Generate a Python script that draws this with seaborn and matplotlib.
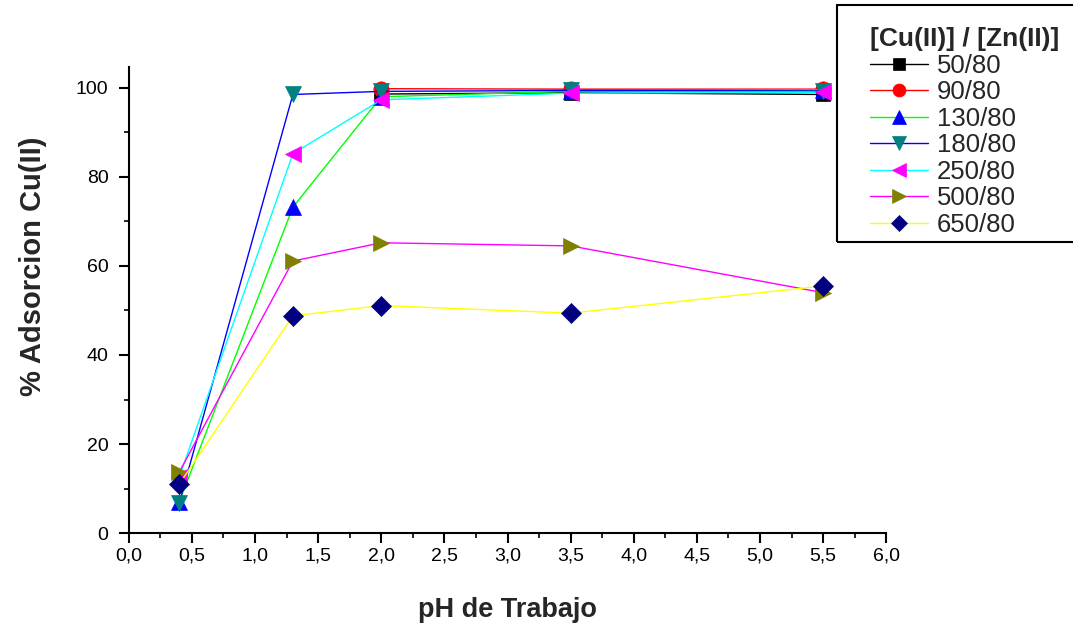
import numpy as np
import pandas as pd
import matplotlib
matplotlib.use("Agg")
import matplotlib.pyplot as plt
from matplotlib.patches import Rectangle
from matplotlib.ticker import MultipleLocator, FuncFormatter
import seaborn as sns

# pH values at which adsorption was measured
ph = [0.4, 1.3, 2.0, 3.5, 5.5]

# Cu(II) adsorption (%) for each Cu/Zn ratio
cu_50_80 = [np.nan, np.nan, 98.6, 98.9, 98.5]
cu_90_80 = [np.nan, np.nan, 99.8, 99.7, 99.7]
cu_130_80 = [7.0, 73.2, 98.0, 99.2, 99.5]
cu_180_80 = [6.8, 98.5, 99.2, 99.4, 99.3]
cu_250_80 = [12.6, 85.2, 97.3, 98.8, 99.0]
cu_500_80 = [13.7, 61.1, 65.2, 64.5, 54.0]
cu_650_80 = [11.0, 48.8, 51.1, 49.4, 55.5]

labels = ["50/80", "90/80", "130/80", "180/80", "250/80", "500/80", "650/80"]
series = [cu_50_80, cu_90_80, cu_130_80, cu_180_80, cu_250_80, cu_500_80, cu_650_80]

line_colors = ["#000000", "#FF0000", "#00FF00", "#0000FF", "#00FFFF", "#FF00FF", "#FFFF00"]
marker_colors = ["#000000", "#FF0000", "#0000FF", "#008080", "#FF00FF", "#808000", "#000080"]
marker_shapes = ["s", "o", "^", "v", "<", ">", "D"]
marker_sizes = [10, 11, 12, 12, 12, 12, 10]

sns.set_theme(style="ticks")
plt.rcParams["font.family"] = ["Liberation Sans", "DejaVu Sans"]

W, H = 1073, 625
fig = plt.figure(figsize=(W / 100, H / 100), dpi=100)
ax = fig.add_axes([0.120, 0.147, 0.706, 0.746])

for lab, vals, lc, mc, m, ms in zip(labels, series, line_colors, marker_colors,
                                    marker_shapes, marker_sizes):
    df = pd.DataFrame({"pH": ph, "ads": vals}).dropna()
    sns.lineplot(data=df, x="pH", y="ads", ax=ax, color=lc, lw=1.0,
                 marker=m, markersize=ms, markerfacecolor=mc,
                 markeredgecolor=mc, markeredgewidth=0.5,
                 label=lab, legend=False, sort=False)

ax.set_xlim(0, 6.0)
ax.set_ylim(0, 104.7)
ax.xaxis.set_major_locator(MultipleLocator(0.5))
ax.xaxis.set_minor_locator(MultipleLocator(0.25))
ax.yaxis.set_major_locator(MultipleLocator(20))
ax.yaxis.set_minor_locator(MultipleLocator(10))
ax.xaxis.set_major_formatter(FuncFormatter(lambda v, p: f"{v:.1f}".replace(".", ",")))
ax.yaxis.set_major_formatter(FuncFormatter(lambda v, p: f"{v:.0f}"))

ax.tick_params(which="major", direction="out", length=7, width=1.5,
               labelsize=14, colors="black")
ax.tick_params(axis="x", which="major", pad=3)
ax.tick_params(axis="y", which="major", pad=7.5)
ax.tick_params(which="minor", direction="out", length=3.8, width=1.2, colors="black")
for side in ["left", "bottom"]:
    ax.spines[side].set_linewidth(1.5)
    ax.spines[side].set_color("black")
sns.despine(ax=ax)

ax.set_xlabel("pH de Trabajo", fontsize=19.5, fontweight="bold", labelpad=24)
ax.set_ylabel("% Adsorcion Cu(II)", fontsize=21, fontweight="bold")
ax.yaxis.set_label_coords(-0.108, 0.573)

handles, lbls = ax.get_legend_handles_labels()
leg = fig.legend(handles, lbls, title="[Cu(II)] / [Zn(II)]",
                 loc="upper left", bbox_to_anchor=(870 / W, 1 - 27 / H),
                 fontsize=18.5, title_fontproperties={"weight": "bold", "size": 19},
                 frameon=False, alignment="left",
                 handlelength=2.25, handletextpad=0.35, labelspacing=0.1,
                 borderpad=0, borderaxespad=0, markerscale=0.85)

# legend frame, open past the right edge of the figure
fig.patches.append(Rectangle((837 / W, 1 - 242 / H), (W + 10 - 837) / W, 237 / H,
                             transform=fig.transFigure, fill=False,
                             edgecolor="black", linewidth=1.5, zorder=5))

fig.savefig("out.png", dpi=100, facecolor="white")
